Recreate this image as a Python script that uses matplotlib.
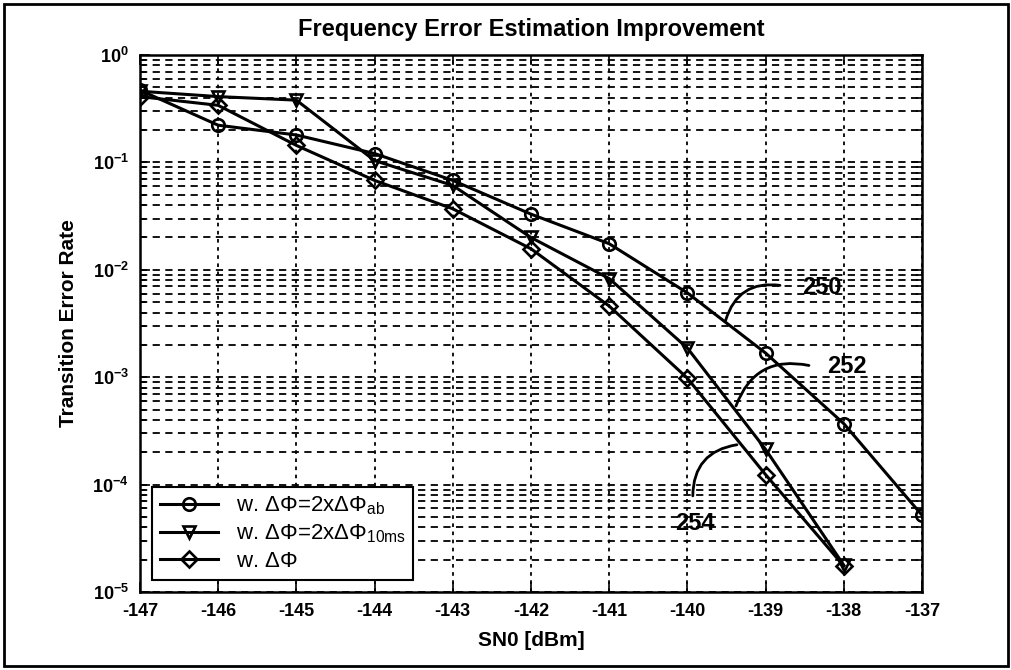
import numpy as np
import matplotlib
matplotlib.use('Agg')
import matplotlib.pyplot as plt
from matplotlib.patches import Rectangle
from matplotlib.ticker import FuncFormatter

plt.rcParams['font.family'] = ['Liberation Sans', 'DejaVu Sans']
plt.rcParams['mathtext.fontset'] = 'custom'
plt.rcParams['mathtext.rm'] = 'Liberation Sans'
plt.rcParams['mathtext.it'] = 'Liberation Sans:italic'
plt.rcParams['mathtext.bf'] = 'Liberation Sans:bold'
plt.rcParams['axes.unicode_minus'] = False

# SNR points (dBm)
sn0 = [-147, -146, -145, -144, -143, -142, -141, -140, -139, -138, -137]
sn0_short = sn0[:-1]

# transition error rate per estimator
ter_ab = [0.47, 0.222, 0.18, 0.121, 0.068, 0.033, 0.0175, 0.0061, 0.00168, 0.00037, 5.2e-5]
ter_10ms = [0.46, 0.41, 0.38, 0.104, 0.061, 0.020, 0.0083, 0.00187, 0.000213, 1.78e-5]
ter_plain = [0.41, 0.34, 0.144, 0.068, 0.037, 0.0157, 0.0046, 0.00098, 0.000124, 1.75e-5]

labels = [r'w. $\Delta\Phi$=2x$\Delta\Phi_{\rm ab}$',
          r'w. $\Delta\Phi$=2x$\Delta\Phi_{\rm 10ms}$',
          r'w. $\Delta\Phi$']

fig = plt.figure(figsize=(10.12, 6.7), dpi=100)
ax = fig.add_axes([0.1383, 0.1164, 0.7727, 0.8015])

style = dict(color='black', lw=2.2, ms=9, mew=1.9, mfc='none')
ax.plot(sn0, ter_ab, marker='o', label=labels[0], **style)
ax.plot(sn0_short, ter_10ms, marker='v', label=labels[1], **style)
ax.plot(sn0_short, ter_plain, marker='D', label=labels[2], **dict(style, ms=8))

ax.set_yscale('log')
ax.set_xlim(-147, -137)
ax.set_ylim(1e-5, 1)
ax.set_xticks(sn0)
ax.yaxis.set_major_formatter(FuncFormatter(
    lambda v, pos: r'$\mathbf{10^{%d}}$' % int(round(np.log10(v)))))

# grids: dotted vertical at majors, dashed horizontal at majors and minors
ax.grid(True, axis='x', which='major', color='black', lw=1.3, linestyle=(0, (2, 2.5)))
ax.grid(True, axis='y', which='both', color='black', lw=1.3, linestyle=(0, (4, 3)))
ax.set_axisbelow(True)

ax.tick_params(which='both', direction='in', top=True, right=True, width=1.2)
ax.tick_params(which='major', length=7, labelsize=13, pad=8)
ax.tick_params(which='minor', length=4)
for lab in ax.get_xticklabels() + ax.get_yticklabels():
    lab.set_fontweight('bold')
for sp in ax.spines.values():
    sp.set_linewidth(1.8)

ax.set_title('Frequency Error Estimation Improvement', fontsize=17,
             fontweight='bold', pad=14)
ax.set_xlabel('SN0 [dBm]', fontsize=15, fontweight='bold', labelpad=8)
ax.set_ylabel('Transition Error Rate', fontsize=15, fontweight='bold', labelpad=10)

leg = ax.legend(loc='lower left', fontsize=16, frameon=True, fancybox=False,
                edgecolor='black', framealpha=1, handlelength=2.6,
                borderaxespad=0.55, labelspacing=0.25, borderpad=0.35)
leg.get_frame().set_linewidth(1.5)

# reference numerals with curved leaders
arc = dict(arrowstyle='-', color='black', lw=2.0)
ax.annotate('', xy=(-139.52, 3.2e-3), xytext=(-138.78, 7.1e-3),
            arrowprops=dict(arc, connectionstyle='arc3,rad=0.45'))
ax.text(-138.28, 6.9e-3, '250', fontsize=17, fontweight='bold', ha='center', va='center')

ax.annotate('', xy=(-139.39, 5.1e-4), xytext=(-138.41, 1.27e-3),
            arrowprops=dict(arc, connectionstyle='arc3,rad=0.45'))
ax.text(-137.96, 1.27e-3, '252', fontsize=17, fontweight='bold', ha='center', va='center')

ax.annotate('', xy=(-139.33, 2.37e-4), xytext=(-139.93, 7.4e-5),
            arrowprops=dict(arc, connectionstyle='arc3,rad=-0.45'))
ax.text(-139.9, 4.3e-5, '254', fontsize=17, fontweight='bold', ha='center', va='center')

# scanned page border
fig.patches.append(Rectangle((0.004, 0.006), 0.992, 0.988, transform=fig.transFigure,
                             fill=False, edgecolor='black', lw=2))

fig.savefig('out.png', dpi=100)
